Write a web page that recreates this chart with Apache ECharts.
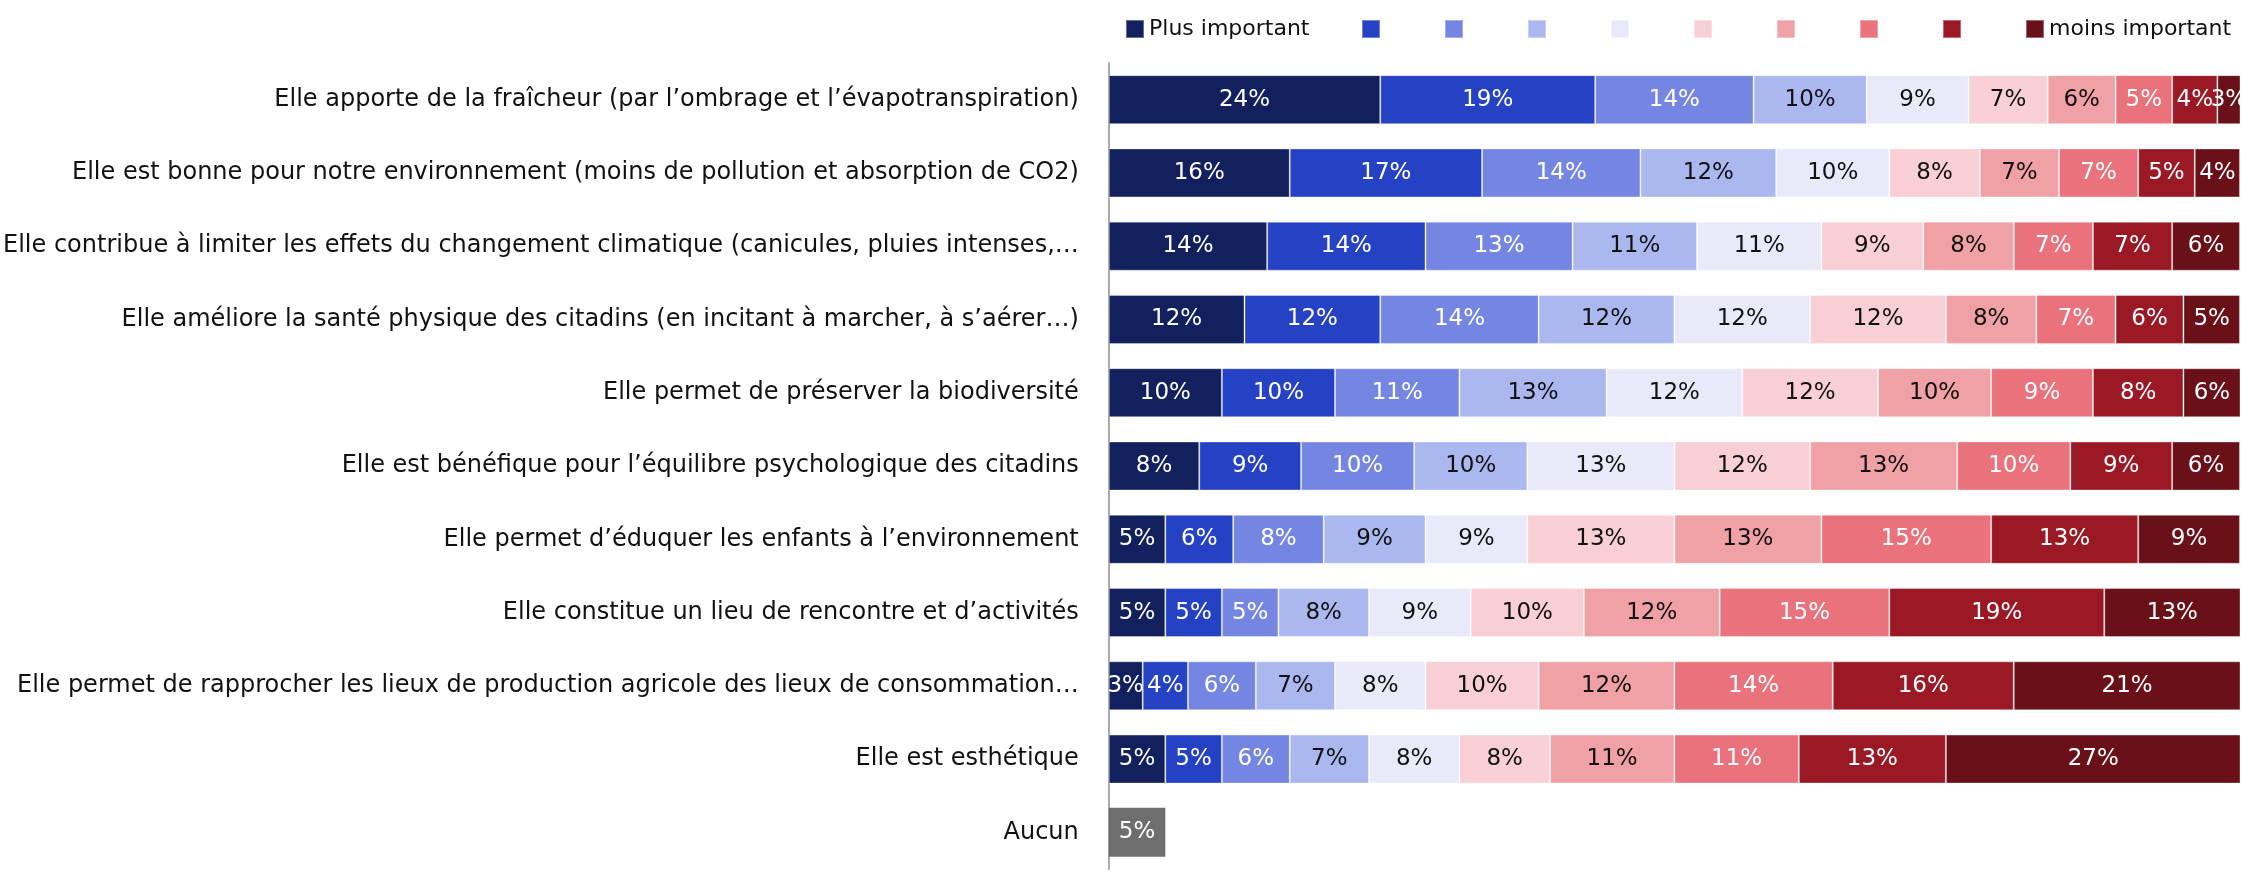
<!DOCTYPE html>
<html>
<head>
<meta charset="utf-8">
<script src="https://cdn.jsdelivr.net/npm/echarts@6/dist/echarts.min.js"></script>
<style>
  html, body { margin: 0; padding: 0; background: #fff; }
  #chart { width: 2244px; height: 874px; }
</style>
</head>
<body>
<div id="chart"></div>
<script>
// libellés des lignes (haut -> bas)
const categories = [
  'Elle apporte de la fraîcheur (par l’ombrage et l’évapotranspiration)',
  'Elle est bonne pour notre environnement (moins de pollution et absorption de CO2)',
  'Elle contribue à limiter les effets du changement climatique (canicules, pluies intenses,…',
  'Elle améliore la santé physique des citadins (en incitant à marcher, à s’aérer…)',
  'Elle permet de préserver la biodiversité',
  'Elle est bénéfique pour l’équilibre psychologique des citadins',
  'Elle permet d’éduquer les enfants à l’environnement',
  'Elle constitue un lieu de rencontre et d’activités',
  'Elle permet de rapprocher les lieux de production agricole des lieux de consommation…',
  'Elle est esthétique',
  'Aucun'
]

// parts (%) par rang d'importance, une valeur par ligne (sauf "Aucun")
const rang1 = [24, 16, 14, 12, 10, 8, 5, 5, 3, 5]
const rang2 = [19, 17, 14, 12, 10, 9, 6, 5, 4, 5]
const rang3 = [14, 14, 13, 14, 11, 10, 8, 5, 6, 6]
const rang4 = [10, 12, 11, 12, 13, 10, 9, 8, 7, 7]
const rang5 = [9, 10, 11, 12, 12, 13, 9, 9, 8, 8]
const rang6 = [7, 8, 9, 12, 12, 12, 13, 10, 10, 8]
const rang7 = [6, 7, 8, 8, 10, 13, 13, 12, 12, 11]
const rang8 = [5, 7, 7, 7, 9, 10, 15, 15, 14, 11]
const rang9 = [4, 5, 7, 6, 8, 9, 13, 19, 16, 13]
const rang10 = [3, 4, 6, 5, 6, 6, 9, 13, 21, 27]
const aucun = 5

const rangs = [rang1, rang2, rang3, rang4, rang5, rang6, rang7, rang8, rang9, rang10]
const couleurs = ['#13205e', '#2541c4', '#7486e2', '#abb7ef', '#e8eafa',
                  '#f7cfd4', '#f0a1a6', '#ea727c', '#9b1924', '#6a1018']
const texteClair = [true, true, true, false, false, false, false, true, true, true]

const font = 'DejaVu Sans'

const labelPct = clair => ({
  show: true,
  formatter: p => p.value == null ? '' : p.value + '%',
  color: clair ? '#fff' : '#111',
  fontFamily: font,
  fontSize: 23
})

const series = rangs.map((vals, i) => ({
  name: String(i + 1),
  type: 'bar',
  stack: 'total',
  barWidth: 49,
  data: vals.concat([null]),
  itemStyle: { color: couleurs[i], borderColor: 'rgba(255,255,255,0.35)', borderWidth: 1 },
  label: labelPct(texteClair[i])
}))

series.push({
  name: 'Aucun',
  type: 'bar',
  stack: 'total',
  barWidth: 49,
  data: new Array(10).fill(null).concat([aucun]),
  itemStyle: { color: '#6e6e6e' },
  label: labelPct(true)
})

const legendBase = {
  top: 13,
  itemWidth: 18,
  itemHeight: 18,
  icon: 'rect',
  formatter: n => n === '1' ? 'Plus important' : n === '10' ? 'moins important' : '',
  textStyle: { fontFamily: font, fontSize: 22, color: '#111' }
}

const chart = echarts.init(document.getElementById('chart'))
chart.setOption({
  animation: false,
  legend: [
    Object.assign({}, legendBase, { data: ['1'], left: 1120 }),
    Object.assign({}, legendBase, {
      data: rangs.slice(1).map((v, i) => String(i + 2)),
      left: 1356,
      itemGap: 63
    })
  ],
  grid: { left: 1108, right: 4, top: 63, bottom: 5, containLabel: false },
  xAxis: {
    type: 'value',
    min: 0,
    max: 100,
    show: false
  },
  yAxis: {
    type: 'category',
    inverse: true,
    data: categories,
    axisLine: { lineStyle: { color: '#aaa', width: 2 } },
    axisTick: { length: 9, lineStyle: { color: '#aaa', width: 2 } },
    axisLabel: { margin: 30, fontFamily: font, fontSize: 24, color: '#111' }
  },
  series: series
})
</script>
</body>
</html>
